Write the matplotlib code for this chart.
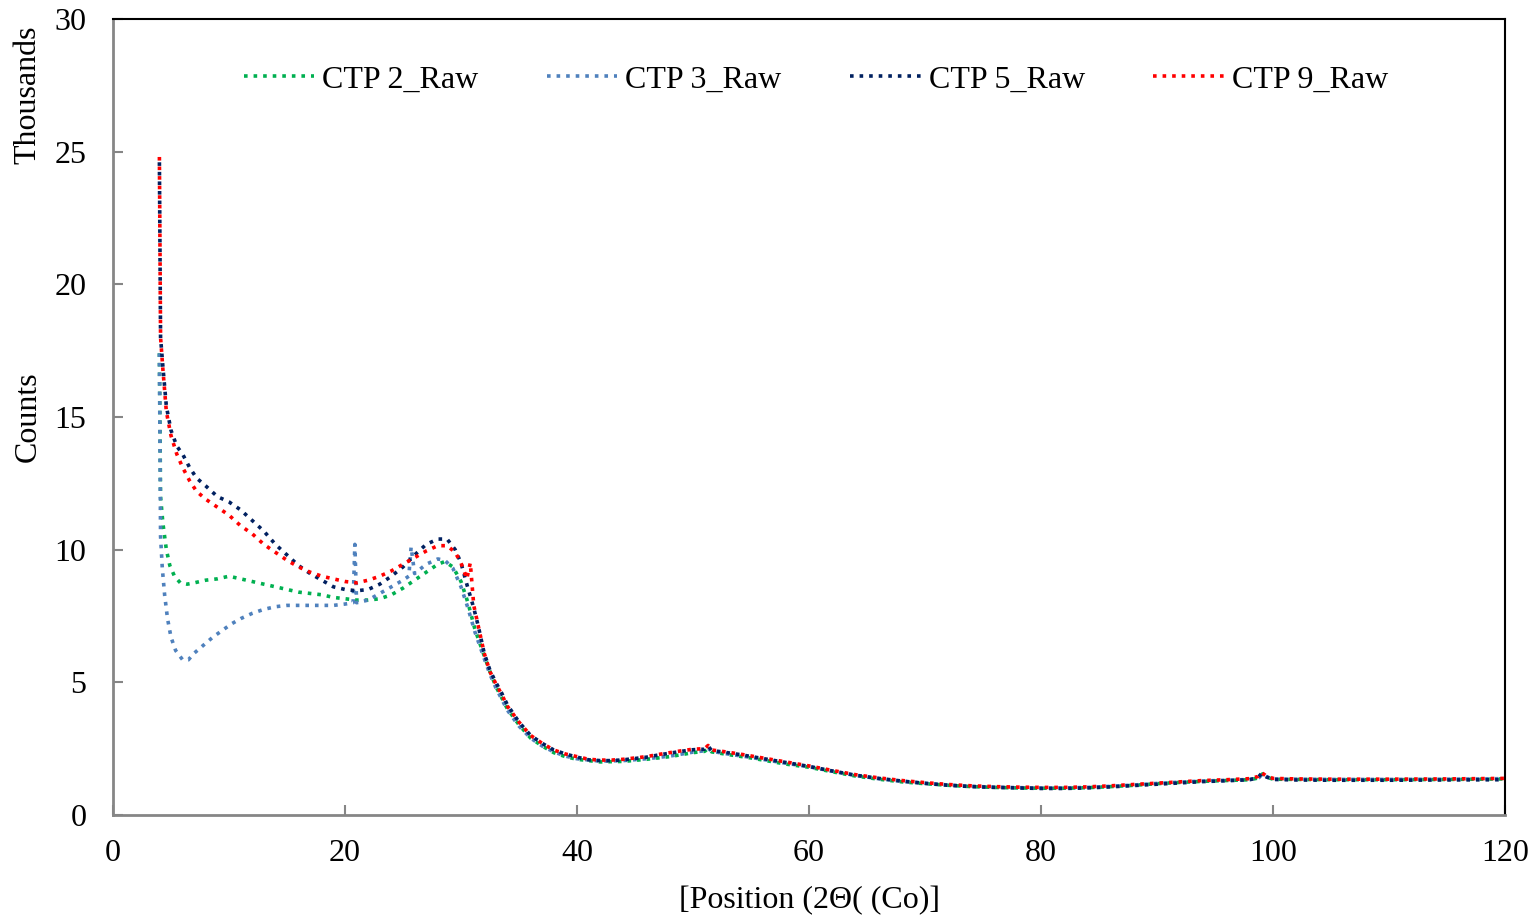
import matplotlib.pyplot as plt

plt.rcParams['font.family'] = ['Liberation Serif', 'DejaVu Serif']
plt.rcParams['font.size'] = 23

# data (counts in thousands vs 2-theta)
ctp2_x = [4.0, 4.1, 4.3, 4.6, 4.9, 5.3, 5.8, 6.4, 7.0, 8.0, 9.0, 10.0, 11.0, 12.0,
          13.0, 14.0, 15.0, 16.0, 17.0, 18.0, 19.0, 20.0, 21.0, 22.0, 23.0, 24.0,
          25.0, 26.0, 27.0, 28.0, 28.6, 29.3, 30.0, 30.6, 31.2, 32.0, 32.5, 33.0,
          34.0, 35.0, 36.0, 37.0, 38.0, 39.0, 40.0, 42.0, 44.0, 46.0, 48.0, 50.0,
          51.0, 51.3, 51.6, 53.0, 55.0, 58.0, 60.0, 62.0, 64.0, 66.0, 68.0, 70.0,
          72.0, 74.0, 76.0, 78.0, 80.0, 82.0, 84.0, 86.0, 88.0, 90.0, 92.0, 94.0,
          96.0, 98.0, 98.8, 99.1, 99.5, 100.0, 105.0, 110.0, 115.0, 120.0]
ctp2_y = [17.4, 12.0, 11.0, 10.0, 9.4, 9.0, 8.75, 8.7, 8.75, 8.85, 8.9, 9.0, 8.9, 8.8,
          8.7, 8.6, 8.5, 8.4, 8.35, 8.3, 8.2, 8.15, 8.1, 8.1, 8.15, 8.3,
          8.55, 8.85, 9.15, 9.45, 9.55, 9.35, 8.8, 8.0, 7.0, 6.0, 5.4, 4.85,
          4.0, 3.4, 2.9, 2.6, 2.35, 2.2, 2.1, 2.0, 2.02, 2.1, 2.2, 2.35,
          2.4, 2.5, 2.38, 2.28, 2.15, 1.92, 1.8, 1.63, 1.47, 1.35, 1.25, 1.18,
          1.12, 1.07, 1.04, 1.02, 1.01, 1.01, 1.03, 1.07, 1.12, 1.18, 1.23, 1.27,
          1.3, 1.33, 1.4, 1.55, 1.42, 1.35, 1.33, 1.33, 1.34, 1.36]

ctp3_x = [4.0, 4.1, 4.25, 4.45, 4.7, 5.0, 5.4, 6.0, 6.5, 7.0, 7.8, 8.6, 9.4, 10.2,
          11.0, 12.0, 13.0, 14.0, 15.0, 16.0, 17.0, 18.0, 19.0, 20.0, 20.7, 20.85,
          21.0, 22.0, 23.0, 24.0, 25.0, 25.5, 25.7, 26.0, 27.0, 28.0, 28.6, 29.3,
          30.0, 30.6, 31.2, 32.0, 32.5, 33.0, 34.0, 35.0, 36.0, 37.0, 38.0, 39.0,
          40.0, 42.0, 44.0, 46.0, 48.0, 50.0, 51.0, 51.3, 51.6, 53.0, 55.0, 58.0,
          60.0, 62.0, 64.0, 66.0, 68.0, 70.0, 72.0, 74.0, 76.0, 78.0, 80.0, 82.0,
          84.0, 86.0, 88.0, 90.0, 92.0, 94.0, 96.0, 98.0, 98.8, 99.1, 99.5, 100.0,
          105.0, 110.0, 115.0, 120.0]
ctp3_y = [17.4, 10.5, 9.3, 8.3, 7.4, 6.7, 6.2, 5.85, 5.85, 6.1, 6.4, 6.7, 6.95, 7.2,
          7.4, 7.6, 7.75, 7.85, 7.9, 7.9, 7.9, 7.9, 7.9, 7.95, 8.0, 10.2,
          8.0, 8.1, 8.35, 8.6, 8.85, 9.0, 10.1, 9.1, 9.45, 9.65, 9.6, 9.3,
          8.6, 7.8, 6.9, 5.9, 5.3, 4.8, 3.95, 3.35, 2.9, 2.6, 2.38, 2.22,
          2.12, 2.03, 2.05, 2.12, 2.22, 2.37, 2.42, 2.52, 2.4, 2.3, 2.17, 1.95,
          1.82, 1.65, 1.49, 1.37, 1.27, 1.2, 1.13, 1.08, 1.05, 1.03, 1.02, 1.02,
          1.04, 1.08, 1.13, 1.19, 1.24, 1.28, 1.31, 1.34, 1.41, 1.56, 1.43, 1.36,
          1.34, 1.34, 1.35, 1.37]

ctp5_x = [4.0, 4.1, 4.3, 4.6, 5.0, 5.5, 6.0, 6.6, 7.2, 8.0, 9.0, 10.0, 11.0, 12.0,
          13.0, 14.0, 15.0, 16.0, 17.0, 18.0, 19.0, 20.0, 21.0, 22.0, 23.0, 24.0,
          25.0, 26.0, 27.0, 28.0, 28.8, 29.5, 30.0, 30.5, 31.1, 31.5, 32.0, 32.5,
          33.0, 33.5, 34.0, 35.0, 36.0, 37.0, 38.0, 39.0, 40.0, 41.0, 42.0, 43.0,
          44.0, 45.0, 46.0, 47.0, 48.0, 49.0, 50.0, 51.0, 51.3, 51.6, 52.5, 54.0,
          56.0, 58.0, 60.0, 62.0, 64.0, 66.0, 68.0, 70.0, 72.0, 74.0, 76.0, 78.0,
          80.0, 82.0, 84.0, 86.0, 88.0, 90.0, 92.0, 94.0, 96.0, 98.0, 98.7, 99.0,
          99.4, 100.0, 102.0, 105.0, 110.0, 115.0, 120.0]
ctp5_y = [24.6, 18.0, 16.9, 15.4, 14.5, 13.9, 13.6, 13.1, 12.7, 12.4, 12.0, 11.8, 11.5, 11.1,
          10.7, 10.2, 9.8, 9.4, 9.1, 8.85, 8.6, 8.5, 8.45, 8.5, 8.7, 9.0,
          9.35, 9.8, 10.2, 10.4, 10.4, 10.0, 9.5, 8.7, 7.8, 7.1, 6.1, 5.45,
          5.0, 4.6, 4.15, 3.5, 3.0, 2.7, 2.45, 2.3, 2.18, 2.08, 2.05, 2.05,
          2.08, 2.13, 2.18, 2.26, 2.33, 2.4, 2.46, 2.48, 2.6, 2.43, 2.38, 2.28,
          2.13, 1.98, 1.83, 1.66, 1.5, 1.38, 1.28, 1.19, 1.12, 1.07, 1.04, 1.02,
          1.0, 1.0, 1.02, 1.06, 1.11, 1.16, 1.21, 1.26, 1.29, 1.33, 1.41, 1.56,
          1.44, 1.34, 1.32, 1.31, 1.31, 1.32, 1.33]

ctp9_x = [4.0, 4.1, 4.3, 4.6, 5.0, 5.5, 6.0, 6.6, 7.2, 8.0, 9.0, 10.0, 11.0, 12.0,
          13.0, 14.0, 15.0, 16.0, 17.0, 18.0, 19.0, 20.0, 21.0, 22.0, 23.0, 24.0,
          25.0, 26.0, 27.0, 28.0, 28.8, 29.5, 30.0, 30.5, 30.8, 31.1, 31.5, 32.0,
          32.5, 33.0, 33.5, 34.0, 35.0, 36.0, 37.0, 38.0, 39.0, 40.0, 41.0, 42.0,
          43.0, 44.0, 45.0, 46.0, 47.0, 48.0, 49.0, 50.0, 51.0, 51.3, 51.6, 52.5,
          54.0, 56.0, 58.0, 60.0, 62.0, 64.0, 66.0, 68.0, 70.0, 72.0, 74.0, 76.0,
          78.0, 80.0, 82.0, 84.0, 86.0, 88.0, 90.0, 92.0, 94.0, 96.0, 98.0, 98.7,
          99.0, 99.4, 100.0, 102.0, 105.0, 110.0, 115.0, 120.0]
ctp9_y = [24.8, 18.0, 16.8, 15.2, 14.3, 13.6, 13.1, 12.6, 12.2, 11.9, 11.6, 11.3, 10.9, 10.6,
          10.2, 9.9, 9.6, 9.35, 9.15, 9.0, 8.9, 8.8, 8.75, 8.85, 9.0, 9.2,
          9.45, 9.7, 9.95, 10.15, 10.15, 9.9, 9.5, 8.9, 9.5, 7.9, 7.1, 6.1,
          5.4, 4.95, 4.55, 4.1, 3.5, 3.0, 2.7, 2.45, 2.3, 2.2, 2.1, 2.07,
          2.07, 2.1, 2.15, 2.2, 2.28, 2.35, 2.42, 2.48, 2.5, 2.62, 2.45, 2.4,
          2.3, 2.15, 2.0, 1.85, 1.68, 1.52, 1.4, 1.3, 1.22, 1.15, 1.1, 1.07,
          1.05, 1.04, 1.04, 1.06, 1.1, 1.15, 1.2, 1.25, 1.3, 1.33, 1.37, 1.45,
          1.6, 1.48, 1.38, 1.36, 1.35, 1.35, 1.36, 1.38]

names = ['CTP 2_Raw', 'CTP 3_Raw', 'CTP 5_Raw', 'CTP 9_Raw']
colors = ['#00B050', '#4F81BD', '#002060', '#FF0000']
xs = [ctp2_x, ctp3_x, ctp5_x, ctp9_x]
ys = [ctp2_y, ctp3_y, ctp5_y, ctp9_y]

fig = plt.figure(figsize=(15.37, 9.18), dpi=100)
ax = fig.add_axes([113 / 1537, 1 - 815 / 918, (1505 - 113) / 1537, (815 - 19) / 918])

for x, y, c, n in zip(xs, ys, colors, names):
    ax.plot(x, y, color=c, linestyle=':', linewidth=2.6, label=n)

ax.set_xlim(0, 120)
ax.set_ylim(0, 30)
ax.set_xticks(range(0, 121, 20))
ax.set_yticks(range(0, 31, 5))

ax.tick_params(axis='both', direction='in', length=7, width=1.5, color='#868686')
ax.tick_params(axis='y', pad=19)
ax.tick_params(axis='x', pad=17)
for s in ['left', 'bottom']:
    ax.spines[s].set_color('#868686')
    ax.spines[s].set_linewidth(2)
for s in ['top', 'right']:
    ax.spines[s].set_color('black')
    ax.spines[s].set_linewidth(1.5)

fig.text(28 / 1537, 1 - 26 / 918, 'Thousands', rotation=90, ha='center', va='top')
fig.text(28 / 1537, 1 - 417 / 918, 'Counts', rotation=90, ha='center', va='center')
fig.text(809 / 1537, 1 - 901 / 918, '[Position (2Θ( (Co)]', ha='center', va='center')

ax.legend(loc='upper center', bbox_to_anchor=(0.505, 0.978), ncol=4, frameon=False,
          handlelength=2.2, handletextpad=0.25, columnspacing=2.15)

fig.savefig('out.png', dpi=100)
